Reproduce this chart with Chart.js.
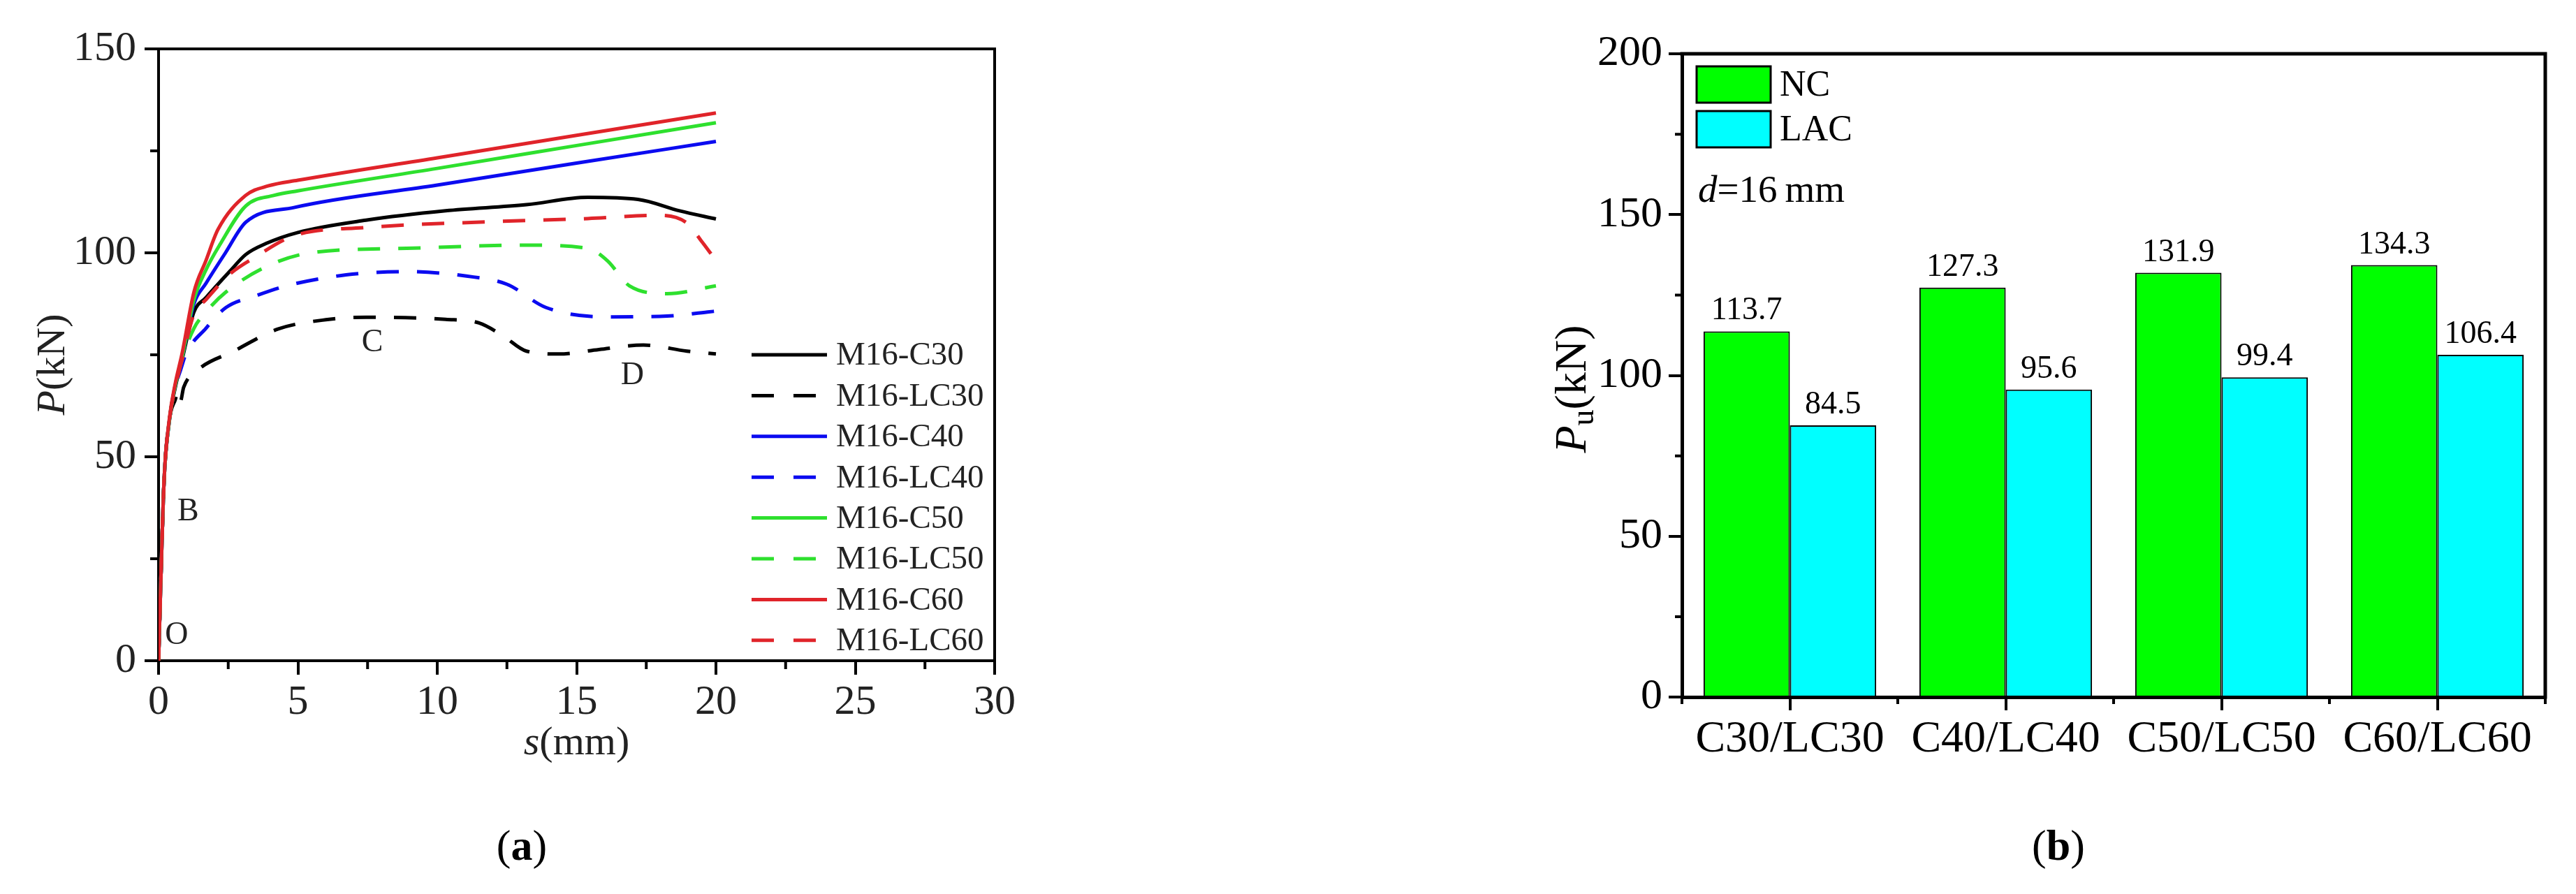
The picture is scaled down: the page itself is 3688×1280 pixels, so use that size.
<!DOCTYPE html>
<html>
<head>
<meta charset="utf-8">
<script src="https://cdn.jsdelivr.net/npm/chart.js@4.4.1/dist/chart.umd.min.js"></script>
<style>
  body { margin: 0; width: 3688px; height: 1280px; background: #fff; position: relative; overflow: hidden; font-family: "Liberation Serif", serif; }
  #chartA { position: absolute; left: 0; top: 0; }
  #chartB { position: absolute; left: 2100px; top: 0; }
  .tag { position: absolute; top: 1210px; transform: translate(-50%, -50%); font-size: 62px; color: #000; }
</style>
</head>
<body>
<canvas id="chartA" width="1560" height="1280"></canvas>
<canvas id="chartB" width="1588" height="1280"></canvas>
<div class="tag" style="left:747px">(<b>a</b>)</div>
<div class="tag" style="left:2947px">(<b>b</b>)</div>
<script>
// ---- (a) load-slip curves, s (mm) vs P (kN)
const seriesLabels = ['M16-C30', 'M16-LC30', 'M16-C40', 'M16-LC40', 'M16-C50', 'M16-LC50', 'M16-C60', 'M16-LC60'];

const c30X = [0, 0.1, 0.2, 0.4, 0.6, 0.85, 1.27, 1.7, 2.56, 3.13, 3.86, 5.0, 7.44, 10.3, 13.2, 15.4, 17.2, 18.7, 20];
const c30Y = [0, 24, 44.5, 59.5, 67, 74, 85.5, 89, 95.5, 99.6, 102.3, 105, 108, 110.3, 111.8, 113.6, 113.1, 110.3, 108.3];

const lc30X = [0, 0.1, 0.2, 0.4, 0.6, 0.7, 0.78, 0.9, 1.41, 2.7, 4.28, 6.0, 7.45, 10.3, 11.5, 12.35, 13.2, 14.36, 15.8, 17.4, 18.96, 20];
const lc30Y = [0, 24, 44.5, 59.5, 64, 66, 63.5, 67, 71.3, 75.9, 81.3, 83.6, 84.2, 83.7, 82.8, 79.7, 75.9, 75.2, 76.3, 77.4, 75.9, 75.2];

const c40X = [0, 0.1, 0.2, 0.4, 0.6, 0.85, 1.27, 1.7, 2.4, 3.13, 4.86, 10, 15, 20];
const c40Y = [0, 24, 44.5, 59.5, 67.5, 74.5, 87.5, 92.5, 100, 107.5, 111.1, 116.6, 122, 127.3];

const lc40X = [0, 0.1, 0.2, 0.4, 0.6, 0.8, 0.98, 1.7, 2.42, 3.5, 4.58, 6.73, 8.9, 11.05, 12.5, 13.9, 16.1, 18.25, 19.7, 20];
const lc40Y = [0, 24, 44.5, 59.5, 67, 71.5, 75.2, 81.5, 86.6, 89.5, 91.9, 94.6, 95.4, 94.3, 92.3, 86.6, 84.3, 84.5, 85.5, 85.7];

const c50X = [0, 0.1, 0.2, 0.4, 0.6, 0.85, 1.27, 1.7, 2.2, 3.13, 4.15, 5, 10, 15, 20];
const c50Y = [0, 24, 44.5, 59.5, 67.5, 74.5, 88.5, 95.8, 102, 111.5, 114.1, 115.2, 120.7, 126.3, 131.9];

const lc50X = [0, 0.1, 0.2, 0.4, 0.6, 0.85, 1.27, 1.7, 2.42, 3.86, 5.44, 8.9, 13.2, 15.4, 16.1, 16.9, 18.25, 20];
const lc50Y = [0, 24, 44.5, 59.5, 67, 74, 81.5, 85.5, 90.4, 96.6, 100, 101.1, 101.9, 101.1, 98.1, 91.9, 90, 91.9];

const c60X = [0, 0.1, 0.2, 0.4, 0.6, 0.85, 1.27, 1.7, 2.13, 3.13, 3.93, 5, 10, 15, 20];
const c60Y = [0, 24, 44.6, 60, 68, 75.5, 90.4, 98.1, 105.7, 114.1, 116.4, 117.8, 123.3, 128.8, 134.3];

const lc60X = [0, 0.1, 0.2, 0.4, 0.6, 0.85, 1.27, 1.7, 2.56, 3.43, 4.86, 7.44, 11.8, 15.4, 17.96, 18.96, 19.5, 20];
const lc60Y = [0, 24, 44.5, 59.5, 67, 74, 85, 88.5, 94.8, 98.8, 104.2, 106.2, 107.6, 108.4, 109.2, 107.3, 102.7, 98.1];

const xTicksA = [0, 5, 10, 15, 20, 25, 30];
const yTicksA = [0, 50, 100, 150];

// point labels on the curves (O, B, C, D)
const markNames = ['O', 'B', 'C', 'D'];
const markS = [0.65, 1.06, 7.67, 17.0];
const markP = [6.2, 36.5, 77.9, 69.8];

// ---- (b) ultimate load bars
const groupLabels = ['C30/LC30', 'C40/LC40', 'C50/LC50', 'C60/LC60'];
const ncValues = [113.7, 127.3, 131.9, 134.3];
const lacValues = [84.5, 95.6, 99.4, 106.4];
const yTicksB = [0, 50, 100, 150, 200];

const SERIF = '"Liberation Serif", "Times New Roman", serif';
const lineColors = ['#000000', '#000000', '#0b0bf0', '#0b0bf0', '#2ee02e', '#2ee02e', '#e0242a', '#e0242a'];
const xsList = [c30X, lc30X, c40X, lc40X, c50X, lc50X, c60X, lc60X];
const ysList = [c30Y, lc30Y, c40Y, lc40Y, c50Y, lc50Y, c60Y, lc60Y];

function richText(ctx, parts, x, y, angle, align) {
  ctx.save();
  ctx.translate(x, y);
  ctx.rotate(angle || 0);
  ctx.textBaseline = 'middle';
  ctx.textAlign = 'left';
  let total = 0;
  parts.forEach(p => { ctx.font = p.font; total += ctx.measureText(p.text).width; });
  let cx = align === 'left' ? 0 : -total / 2;
  parts.forEach(p => {
    ctx.font = p.font;
    ctx.fillStyle = p.color || '#000';
    ctx.fillText(p.text, cx, p.dy || 0);
    cx += ctx.measureText(p.text).width;
  });
  ctx.restore();
}

// frame (top + right) and minor ticks
const framePlugin = {
  id: 'frame',
  afterDraw(chart, args, opts) {
    const { ctx, chartArea: a } = chart;
    ctx.save();
    ctx.strokeStyle = '#000';
    ctx.lineWidth = opts.width;
    ctx.lineCap = 'square';
    ctx.beginPath();
    ctx.moveTo(a.left, a.top);
    ctx.lineTo(a.right, a.top);
    ctx.lineTo(a.right, a.bottom);
    ctx.stroke();
    ctx.lineCap = 'butt';
    ctx.lineWidth = opts.tickWidth;
    ctx.beginPath();
    (opts.minorX(chart) || []).forEach(px => { ctx.moveTo(px, a.bottom); ctx.lineTo(px, a.bottom + opts.minorLen); });
    (opts.minorY(chart) || []).forEach(py => { ctx.moveTo(a.left, py); ctx.lineTo(a.left - opts.minorLen, py); });
    ctx.stroke();
    ctx.restore();
  }
};

// ---------- chart (a)
const datasetsA = seriesLabels.map((lab, i) => ({
  label: lab,
  data: xsList[i].map((x, j) => ({ x: x, y: ysList[i][j] })),
  borderColor: lineColors[i],
  borderWidth: 5,
  borderDash: i % 2 ? [32, 26] : [],
  pointRadius: 0,
  cubicInterpolationMode: 'monotone',
  fill: false,
  order: 8 - i
}));

const annotA = {
  id: 'annotA',
  afterDraw(chart) {
    const { ctx, chartArea: a, scales } = chart;
    const grey = '#222';
    const f = '58px ' + SERIF;
    const fi = 'italic 58px ' + SERIF;
    richText(ctx, [{ text: 's', font: fi, color: grey }, { text: '(mm)', font: f, color: grey }], (a.left + a.right) / 2, 1065, 0);
    richText(ctx, [{ text: 'P', font: fi, color: grey }, { text: '(kN)', font: f, color: grey }], 77, (a.top + a.bottom) / 2 + 14, -Math.PI / 2);
    // O, B, C, D
    ctx.save();
    ctx.font = '46px ' + SERIF;
    ctx.fillStyle = grey;
    ctx.textAlign = 'center';
    ctx.textBaseline = 'middle';
    markNames.forEach((m, i) => ctx.fillText(m, scales.x.getPixelForValue(markS[i]), scales.y.getPixelForValue(markP[i])));
    // legend
    ctx.font = '47px ' + SERIF;
    ctx.textAlign = 'left';
    ctx.lineWidth = 5;
    chart.data.datasets.forEach((ds, i) => {
      const y = 508 + 58.4 * i;
      ctx.strokeStyle = ds.borderColor;
      ctx.setLineDash(ds.borderDash.length ? [32, 28] : []);
      ctx.beginPath();
      ctx.moveTo(1076, y);
      ctx.lineTo(1184, y);
      ctx.stroke();
      ctx.fillText(ds.label, 1197, y + 2);
    });
    ctx.restore();
  }
};

new Chart(document.getElementById('chartA'), {
  type: 'line',
  data: { datasets: datasetsA },
  options: {
    responsive: false,
    animation: false,
    devicePixelRatio: 1,
    layout: { padding: { top: 70, right: 136, left: 0, bottom: 0 } },
    plugins: {
      legend: { display: false },
      tooltip: { enabled: false },
      frame: {
        width: 4, tickWidth: 4, minorLen: 12,
        minorX: ch => xTicksA.slice(0, -1).map(v => ch.scales.x.getPixelForValue(v + 2.5)),
        minorY: ch => yTicksA.slice(0, -1).map(v => ch.scales.y.getPixelForValue(v + 25))
      }
    },
    scales: {
      x: {
        type: 'linear', min: 0, max: 30,
        afterFit: s => { s.height = 334; },
        afterBuildTicks: s => { s.ticks = xTicksA.map(v => ({ value: v })); },
        ticks: { font: { family: SERIF, size: 60 }, color: '#222', padding: 4, maxRotation: 0 },
        grid: { drawOnChartArea: false, color: '#000', lineWidth: 4, tickLength: 20 },
        border: { color: '#000', width: 4 }
      },
      y: {
        min: 0, max: 150,
        afterFit: s => { s.width = 227; },
        afterBuildTicks: s => { s.ticks = yTicksA.map(v => ({ value: v })); },
        ticks: { font: { family: SERIF, size: 60 }, color: '#222', padding: 12 },
        grid: { drawOnChartArea: false, color: '#000', lineWidth: 4, tickLength: 20 },
        border: { color: '#000', width: 4 }
      }
    }
  },
  plugins: [framePlugin, annotA]
});

// ---------- chart (b)
const annotB = {
  id: 'annotB',
  afterDraw(chart) {
    const { ctx, chartArea: a } = chart;
    const f = '64px ' + SERIF;
    richText(ctx, [
      { text: 'P', font: 'italic 64px ' + SERIF },
      { text: 'u', font: '46px ' + SERIF, dy: 16 },
      { text: '(kN)', font: f }
    ], 153, 557, -Math.PI / 2);
    richText(ctx, [
      { text: 'd', font: 'italic 55px ' + SERIF },
      { text: '=16\u2009mm', font: '55px ' + SERIF }
    ], 331, 275, 0, 'left');
    ctx.save();
    // legend boxes
    ctx.font = '52px ' + SERIF;
    ctx.textBaseline = 'middle';
    ctx.textAlign = 'left';
    chart.data.datasets.forEach((ds, i) => {
      const top = 95 + 64 * i;
      ctx.fillStyle = ds.backgroundColor;
      ctx.fillRect(329, top, 106, 52);
      ctx.lineWidth = 3;
      ctx.strokeStyle = '#000';
      ctx.strokeRect(329, top, 106, 52);
      ctx.fillStyle = '#000';
      ctx.fillText(ds.label, 448, top + 28);
    });
    // value labels
    ctx.font = '46px ' + SERIF;
    ctx.textAlign = 'center';
    ctx.textBaseline = 'bottom';
    chart.data.datasets.forEach((ds, i) => {
      chart.getDatasetMeta(i).data.forEach((bar, j) => {
        ctx.fillText(ds.data[j].toFixed(1), bar.x, bar.y - 6);
      });
    });
    ctx.restore();
  }
};

new Chart(document.getElementById('chartB'), {
  type: 'bar',
  data: {
    labels: groupLabels,
    datasets: [
      { label: 'NC', data: ncValues, backgroundColor: '#00ff00', borderColor: '#000', borderWidth: 2 },
      { label: 'LAC', data: lacValues, backgroundColor: '#00ffff', borderColor: '#000', borderWidth: 2 }
    ]
  },
  options: {
    responsive: false,
    animation: false,
    devicePixelRatio: 1,
    layout: { padding: { top: 77, right: 44, left: 0, bottom: 0 } },
    datasets: { bar: { categoryPercentage: 0.8, barPercentage: 1.0 } },
    plugins: {
      legend: { display: false },
      tooltip: { enabled: false },
      frame: {
        width: 5, tickWidth: 4, minorLen: 10,
        minorX: ch => {
          const a = ch.chartArea, n = groupLabels.length, w = (a.right - a.left) / n;
          return groupLabels.map((g, i) => ch.scales.x.getPixelForValue(i) - w / 2).concat([a.right]);
        },
        minorY: ch => yTicksB.slice(0, -1).map(v => ch.scales.y.getPixelForValue(v + 25))
      }
    },
    scales: {
      x: {
        afterFit: s => { s.height = 282; },
        ticks: { font: { family: SERIF, size: 64 }, color: '#000', padding: 4, maxRotation: 0 },
        grid: { offset: false, drawOnChartArea: false, color: '#000', lineWidth: 4, tickLength: 19 },
        border: { color: '#000', width: 5 }
      },
      y: {
        min: 0, max: 200,
        afterFit: s => { s.width = 308; },
        afterBuildTicks: s => { s.ticks = yTicksB.map(v => ({ value: v })); },
        ticks: { font: { family: SERIF, size: 62 }, color: '#000', padding: 9 },
        grid: { drawOnChartArea: false, color: '#000', lineWidth: 4, tickLength: 19 },
        border: { color: '#000', width: 5 }
      }
    }
  },
  plugins: [framePlugin, annotB]
});
</script>
</body>
</html>
